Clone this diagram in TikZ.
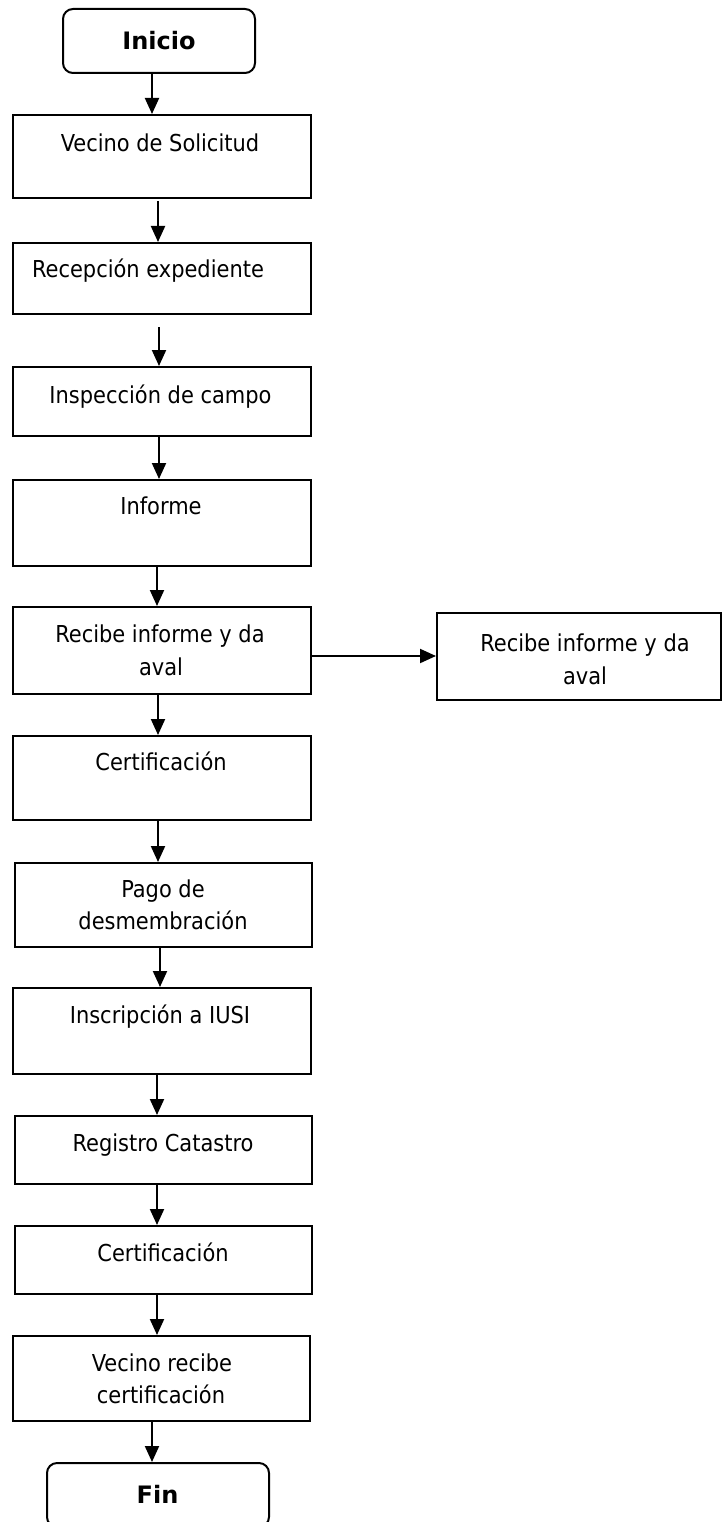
\documentclass[tikz,border=0pt]{standalone}
\usepackage{fontspec}
\setmainfont{DejaVu Sans Condensed}
\newfontfamily\boldfam{DejaVu Sans}
\usetikzlibrary{arrows.meta}
\tikzset{
  box/.style={draw=black, line width=2pt, inner sep=0pt, fill=white},
  rbox/.style={box, rounded corners=10pt},
  txt/.style={inner sep=0pt, anchor=base, font=\fontsize{23.3}{28}\selectfont},
  btxt/.style={inner sep=0pt, anchor=base, font=\boldfam\bfseries\fontsize{24}{28}\selectfont},
  arr/.style={line width=2pt, -{Triangle[width=14pt,length=16pt]}}
}
\begin{document}
\begin{tikzpicture}[x=1pt,y=-1pt]
\path[use as bounding box, clip] (0,0) rectangle (722,1522);
\fill[white] (0,0) rectangle (722,1522);
% boxes
\node[rbox, minimum width=192pt, minimum height=64pt] (ini) at (159,41) {};
\node[box, minimum width=298pt, minimum height=83pt] (b1) at (162,156.5) {};
\node[box, minimum width=298pt, minimum height=71pt] (b2) at (162,278.5) {};
\node[box, minimum width=298pt, minimum height=69pt] (b3) at (162,401.5) {};
\node[box, minimum width=298pt, minimum height=86pt] (b4) at (162,523) {};
\node[box, minimum width=298pt, minimum height=87pt] (b5) at (162,650.5) {};
\node[box, minimum width=284pt, minimum height=87pt] (side) at (579,656.5) {};
\node[box, minimum width=298pt, minimum height=84pt] (b6) at (162,778) {};
\node[box, minimum width=297pt, minimum height=84pt] (b7) at (163.5,905) {};
\node[box, minimum width=298pt, minimum height=86pt] (b8) at (162,1031) {};
\node[box, minimum width=297pt, minimum height=68pt] (b9) at (163.5,1150) {};
\node[box, minimum width=297pt, minimum height=68pt] (b10) at (163.5,1260) {};
\node[box, minimum width=297pt, minimum height=85pt] (b11) at (161.5,1378.5) {};
\node[rbox, minimum width=222pt, minimum height=64pt] (fin) at (158,1495) {};
% texts
\node[btxt] (tini) at (159,50) {Inicio};
\node[txt] (t1) at (160,152) {Vecino de Solicitud};
\node[txt] (t2) at (148,277) {Recepción expediente};
\node[txt] (t3) at (160.5,403) {Inspección de campo};
\node[txt] (t4) at (161,514) {Informe};
\node[txt] (t5a) at (160,642) {Recibe informe y da};
\node[txt] (t5b) at (161,675) {aval};
\node[txt] (tsa) at (585,651) {Recibe informe y da};
\node[txt] (tsb) at (585,684) {aval};
\node[txt] (t6) at (161,770) {Certificación};
\node[txt] (t7a) at (163,897) {Pago de};
\node[txt] (t7b) at (163,929) {desmembración};
\node[txt] (t8) at (160,1023) {Inscripción a IUSI};
\node[txt] (t9) at (163,1151) {Registro Catastro};
\node[txt] (t10) at (163,1261) {Certificación};
\node[txt] (t11a) at (162,1371) {Vecino recibe};
\node[txt] (t11b) at (161,1403) {certificación};
\node[btxt] (tfin) at (157.5,1503) {Fin};
% connectors
\draw[arr] (ini.south -| 152,0) -- (b1.north -| 152,0);
\draw[arr] ([yshift=-2pt]b1.south -| 158,0) -- (b2.north -| 158,0);
\draw[arr] ([yshift=-12pt]b2.south -| 159,0) -- (b3.north -| 159,0);
\draw[arr] (b3.south -| 159,0) -- (b4.north -| 159,0);
\draw[arr] (b4.south -| 157,0) -- (b5.north -| 157,0);
\draw[arr] (b5.east |- 0,656) -- (side.west |- 0,656);
\draw[arr] (b5.south -| 158,0) -- (b6.north -| 158,0);
\draw[arr] (b6.south -| 158,0) -- (b7.north -| 158,0);
\draw[arr] (b7.south -| 160,0) -- (b8.north -| 160,0);
\draw[arr] (b8.south -| 157,0) -- (b9.north -| 157,0);
\draw[arr] (b9.south -| 157,0) -- (b10.north -| 157,0);
\draw[arr] (b10.south -| 157,0) -- (b11.north -| 157,0);
\draw[arr] (b11.south -| 152,0) -- (fin.north -| 152,0);
\end{tikzpicture}
\end{document}
